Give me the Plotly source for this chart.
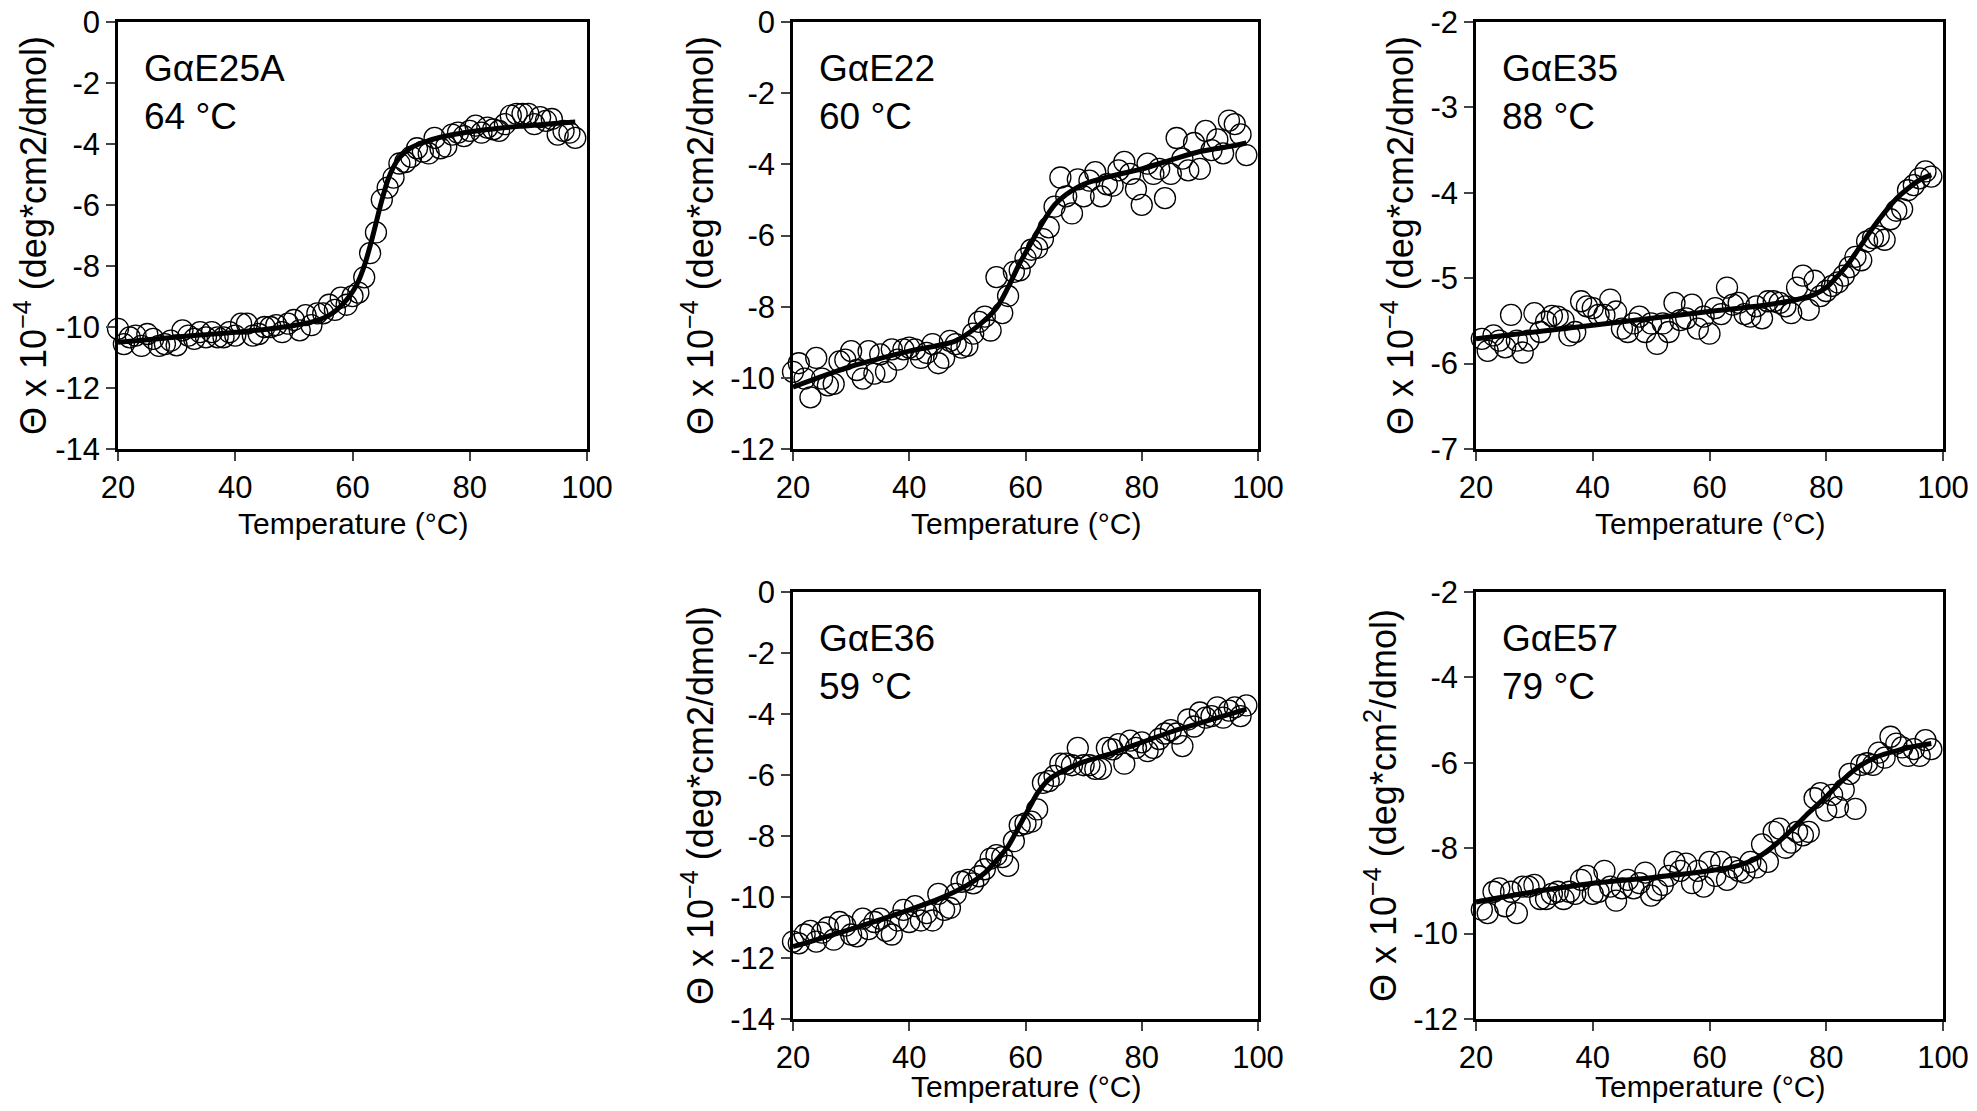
import plotly.graph_objects as go

# ── Temperatures (°C) ─────────────────────────────────────────────────────────
temp_20 = list(range(20, 99))
temp_21 = list(range(21, 99))

e25a_theta = [
    -10.06, -10.56, -10.34, -10.28, -10.62, -10.23, -10.39, -10.62, -10.56, -10.45,
    -10.60, -10.11, -10.28, -10.39, -10.17, -10.34, -10.17, -10.34, -10.34, -10.17,
    -10.28, -9.89, -9.89, -10.28, -10.23, -10.00, -10.00, -9.94, -10.17, -9.89,
    -9.77, -10.11, -9.61, -9.94, -9.55, -9.55, -9.27, -9.44, -9.04, -9.27,
    -8.99, -8.87, -8.37, -7.58, -6.90, -5.83, -5.43, -5.10, -4.64, -4.59,
    -4.42, -4.14, -4.25, -4.31, -3.80, -4.14, -4.08, -3.69, -3.63, -3.74,
    -3.57, -3.40, -3.63, -3.46, -3.52, -3.57, -3.35, -3.07, -3.01, -3.01,
    -3.01, -3.35, -3.12, -3.24, -3.18, -3.69, -3.57, -3.63, -3.80,
]
e22_theta = [
    -9.83, -9.59, -10.02, -10.55, -9.44, -10.02, -10.21, -10.17, -9.54, -9.49,
    -9.25, -9.78, -10.02, -9.25, -9.88, -9.34, -9.83, -9.20, -9.49, -9.20,
    -9.15, -9.20, -9.44, -9.30, -9.05, -9.59, -9.44, -8.96, -9.05, -9.15,
    -9.10, -8.76, -8.43, -8.28, -8.67, -7.17, -8.18, -7.70, -7.02, -6.98,
    -6.64, -6.40, -6.35, -6.10, -5.77, -5.19, -4.37, -4.90, -5.38, -4.42,
    -4.90, -4.46, -4.22, -4.90, -4.56, -4.60, -4.17, -3.93, -4.27, -4.70,
    -5.14, -3.98, -4.27, -4.13, -4.95, -4.27, -3.26, -3.84, -4.17, -3.40,
    -4.13, -3.06, -3.60, -3.30, -3.69, -2.77, -2.87, -3.16, -3.74,
]
e35_theta = [
    -5.71, -5.85, -5.67, -5.73, -5.81, -5.43, -5.73, -5.87, -5.73, -5.41,
    -5.63, -5.51, -5.44, -5.45, -5.49, -5.67, -5.63, -5.27, -5.33, -5.35,
    -5.43, -5.43, -5.25, -5.39, -5.59, -5.63, -5.53, -5.45, -5.63, -5.53,
    -5.77, -5.53, -5.63, -5.29, -5.49, -5.47, -5.31, -5.59, -5.45, -5.65,
    -5.35, -5.42, -5.11, -5.31, -5.29, -5.42, -5.45, -5.33, -5.47, -5.27,
    -5.27, -5.29, -5.33, -5.41, -5.11, -4.97, -5.37, -5.03, -5.21, -5.15,
    -5.09, -5.05, -4.97, -4.87, -4.75, -4.79, -4.57, -4.53, -4.51, -4.55,
    -4.31, -4.21, -4.19, -3.97, -3.91, -3.83, -3.75, -3.81,
]
e36_theta = [
    -11.46, -11.52, -11.23, -11.11, -11.46, -11.17, -11.00, -11.40, -10.82, -10.94,
    -11.23, -11.29, -10.71, -11.05, -10.82, -10.71, -11.11, -11.23, -10.77, -10.42,
    -10.82, -10.30, -10.77, -10.53, -10.77, -9.90, -10.42, -10.36, -9.90, -9.50,
    -9.44, -9.55, -9.32, -9.09, -8.74, -8.63, -8.69, -8.98, -8.17, -7.65,
    -7.59, -7.53, -7.13, -6.26, -6.20, -6.03, -5.63, -5.63, -5.68, -5.11,
    -5.68, -5.68, -5.80, -5.80, -5.11, -5.16, -4.99, -5.63, -4.87, -5.11,
    -4.93, -5.22, -5.11, -4.82, -4.64, -4.53, -4.64, -5.05, -4.18, -4.41,
    -3.95, -4.12, -4.07, -3.78, -4.12, -3.89, -3.78, -4.07, -3.72,
]
e57_theta = [
    -9.44, -9.52, -9.02, -8.94, -9.36, -9.02, -9.52, -8.90, -8.90, -8.86,
    -9.19, -9.19, -9.07, -9.02, -9.19, -9.02, -9.07, -8.74, -8.65, -9.07,
    -9.02, -8.53, -8.90, -9.23, -8.94, -8.74, -8.94, -8.82, -8.57, -9.11,
    -8.98, -8.86, -8.65, -8.32, -8.53, -8.36, -8.82, -8.53, -8.90, -8.32,
    -8.65, -8.32, -8.74, -8.45, -8.53, -8.57, -8.32, -8.45, -7.91, -8.32,
    -7.62, -7.54, -7.99, -7.87, -7.62, -7.70, -7.62, -6.83, -6.71, -7.12,
    -6.75, -7.04, -6.63, -6.26, -7.08, -6.05, -6.01, -6.05, -5.76, -5.88,
    -5.39, -5.55, -5.64, -5.84, -5.68, -5.84, -5.47, -5.68,
]

# ── Fitted curves at selected temperatures ───────────────────────────────────
e25a_fit_t = [20, 25, 30, 35, 40, 45, 50, 54, 56, 58, 60, 61, 62, 63, 64, 65, 66, 67, 68, 70, 72, 75, 80, 85, 90, 95, 98]
e25a_fit = [-10.50, -10.42, -10.33, -10.25, -10.17, -10.08, -9.95, -9.78, -9.62, -9.32, -8.85, -8.50,
            -8.00, -7.35, -6.60, -5.85, -5.20, -4.75, -4.45, -4.12, -3.95, -3.78, -3.60, -3.48, -3.40, -3.32, -3.28]

e22_fit_t = [20, 30, 40, 48, 52, 55, 57, 59, 61, 63, 65, 67, 70, 75, 80, 85, 90, 95, 98]
e22_fit = [-10.26, -9.68, -9.25, -8.96, -8.52, -8.04, -7.46, -6.78, -6.20, -5.62, -5.14, -4.85,
           -4.56, -4.32, -4.13, -3.88, -3.64, -3.50, -3.40]

e35_fit_t = [20, 40, 60, 70, 75, 78, 80, 82, 84, 86, 88, 90, 92, 94, 96, 98]
e35_fit = [-5.71, -5.55, -5.39, -5.31, -5.25, -5.19, -5.11, -4.97, -4.81, -4.61, -4.41, -4.23,
           -4.07, -3.95, -3.85, -3.79]

e36_fit_t = [20, 30, 40, 45, 50, 53, 55, 57, 59, 61, 62, 64, 66, 70, 75, 80, 85, 90, 95, 98]
e36_fit = [-11.63, -11.05, -10.42, -10.07, -9.61, -9.21, -8.80, -8.34, -7.65, -6.95, -6.61, -6.15,
           -5.91, -5.57, -5.28, -4.93, -4.59, -4.30, -4.01, -3.84]

e57_fit_t = [20, 30, 40, 50, 60, 65, 68, 71, 74, 77, 80, 83, 86, 89, 92, 95, 98]
e57_fit = [-9.26, -9.02, -8.82, -8.69, -8.53, -8.40, -8.24, -7.95, -7.58, -7.17, -6.79, -6.38,
           -6.05, -5.84, -5.72, -5.62, -5.55]

# ── Panel labels and ticks ────────────────────────────────────────────────────
panel_names = ["GαE25A", "GαE22", "GαE35", "GαE36", "GαE57"]
panel_tm = ["64 °C", "60 °C", "88 °C", "59 °C", "79 °C"]
x_title = "Temperature (°C)"

x_ticks = [20, 40, 60, 80, 100]
x_tick_labels = ["20", "40", "60", "80", "100"]

y_ticks_14 = [0, -2, -4, -6, -8, -10, -12, -14]
y_labels_14 = ["0", "-2", "-4", "-6", "-8", "-10", "-12", "-14"]
y_ticks_12 = [0, -2, -4, -6, -8, -10, -12]
y_labels_12 = ["0", "-2", "-4", "-6", "-8", "-10", "-12"]
y_ticks_e35 = [-2, -3, -4, -5, -6, -7]
y_labels_e35 = ["-2", "-3", "-4", "-5", "-6", "-7"]
y_ticks_e57 = [-2, -4, -6, -8, -10, -12]
y_labels_e57 = ["-2", "-4", "-6", "-8", "-10", "-12"]

YTITLE = "Θ x 10<sup>−4</sup>\u00a0(deg*cm2/dmol)"
YTITLE_SUP = "Θ x 10<sup>−4</sup>\u00a0(deg*cm<sup>2</sup>/dmol)"

FONT = "Arial, Liberation Sans, sans-serif"

# the page body adds an 8 px margin round the figure
PAGE_PAD = 8
W, H = 1977 - 2 * PAGE_PAD, 1111 - 2 * PAGE_PAD

# pixel boxes of each plot area on the screen: (left, right, top, bottom)
boxes = [
    (118, 587, 22, 449),
    (793, 1258, 22, 449),
    (1476, 1943, 22, 449),
    (793, 1258, 592, 1019),
    (1476, 1943, 592, 1019),
]
# px from the bottom axis down to the centre of the x title (bottom row kept inside the page)
xtitle_drop = [74, 74, 74, 67, 67]

panels = [
    (temp_20, e25a_theta, e25a_fit_t, e25a_fit, [-14, 0], y_ticks_14, y_labels_14, YTITLE),
    (temp_20, e22_theta, e22_fit_t, e22_fit, [-12, 0], y_ticks_12, y_labels_12, YTITLE),
    (temp_21, e35_theta, e35_fit_t, e35_fit, [-7, -2], y_ticks_e35, y_labels_e35, YTITLE),
    (temp_20, e36_theta, e36_fit_t, e36_fit, [-14, 0], y_ticks_14, y_labels_14, YTITLE),
    (temp_21, e57_theta, e57_fit_t, e57_fit, [-12, -2], y_ticks_e57, y_labels_e57, YTITLE_SUP),
]

fig = go.Figure()
layout = dict(
    template="none",
    width=W, height=H,
    margin=dict(l=0, r=0, t=0, b=0, autoexpand=False),
    paper_bgcolor="white", plot_bgcolor="white",
    showlegend=False,
    font=dict(family=FONT, color="black"),
    annotations=[],
)

for i, (tx, ty, ft, fv, yr, yt, yl, ytitle) in enumerate(panels):
    n = "" if i == 0 else str(i + 1)
    l, r, t, b = [v - PAGE_PAD for v in boxes[i]]

    fig.add_trace(go.Scatter(
        x=tx, y=ty, mode="markers",
        marker=dict(symbol="circle-open", size=21, color="black", line=dict(width=1.3, color="black")),
        xaxis="x" + n, yaxis="y" + n, cliponaxis=False,
    ))
    fig.add_trace(go.Scatter(
        x=ft, y=fv, mode="lines",
        line=dict(color="black", width=5, shape="spline", smoothing=0.8),
        xaxis="x" + n, yaxis="y" + n,
    ))

    axis_common = dict(
        showline=True, linecolor="black", linewidth=2.5, mirror=True,
        ticks="outside", ticklen=9, tickwidth=1.5, tickcolor="#444444",
        showgrid=False, zeroline=False, automargin=False,
        ticklabeloverflow="allow",
        tickfont=dict(size=31, family=FONT, color="black"),
    )
    layout["xaxis" + n] = dict(
        axis_common,
        domain=[l / W, r / W], anchor="y" + n,
        range=[20, 100], tickvals=x_ticks, ticktext=x_tick_labels,
    )
    layout["yaxis" + n] = dict(
        axis_common,
        domain=[1 - b / H, 1 - t / H], anchor="x" + n,
        range=yr, tickvals=yt, ticktext=yl,
        title=dict(text=ytitle, font=dict(size=36, family=FONT), standoff=6),
    )
    # x title as an annotation so the bottom row is not pushed up at the page edge
    layout["annotations"].append(dict(
        text=x_title,
        xref="x" + n + " domain", yref="y" + n + " domain",
        x=0.5, y=-xtitle_drop[i] / (b - t), xanchor="center", yanchor="middle",
        showarrow=False, font=dict(size=30, family=FONT, color="black"),
    ))
    layout["annotations"].append(dict(
        text=panel_names[i] + "<br>" + panel_tm[i],
        xref="x" + n + " domain", yref="y" + n + " domain",
        x=0.052, y=0.943, xanchor="left", yanchor="top", align="left",
        showarrow=False, font=dict(size=37, family=FONT, color="black"),
    ))

fig.update_layout(**layout)
fig.write_html("out.html")
